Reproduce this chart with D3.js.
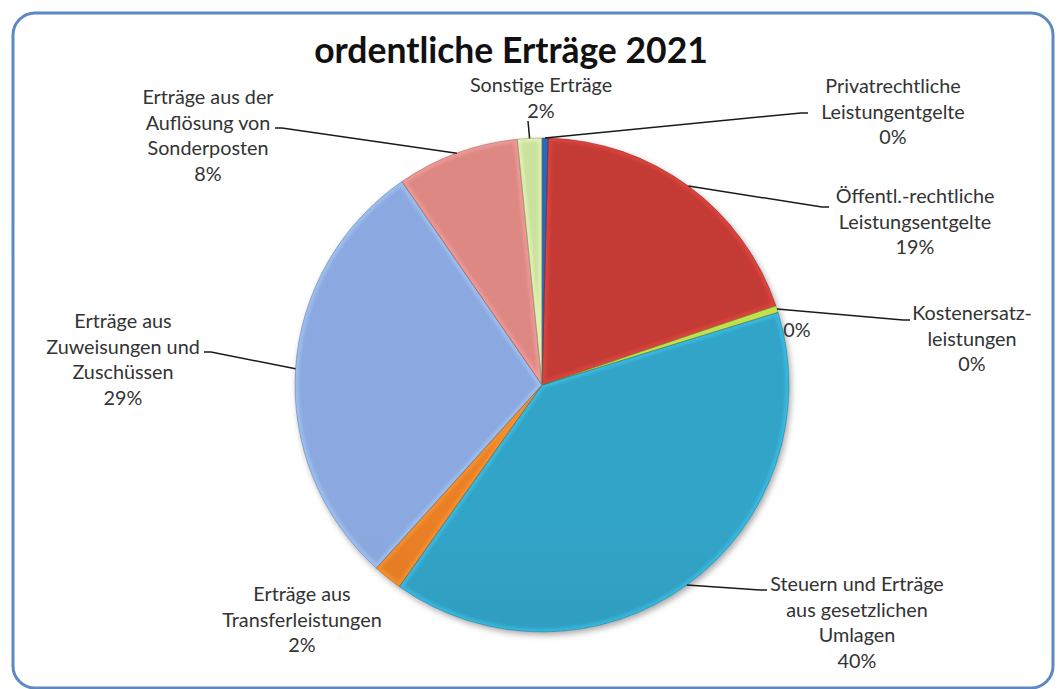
<!DOCTYPE html>
<html>
<head>
<meta charset="utf-8">
<script src="https://cdn.jsdelivr.net/npm/d3@7"></script>
<style>
  body { margin: 0; background: #fff; }
  svg { display: block; }
</style>
</head>
<body>
<svg id="chart"></svg>
<script>
// data
const categories = [
    "Privatrechtliche Leistungentgelte",
    "Öffentl.-rechtliche Leistungsentgelte",
    "Kostenersatzleistungen",
    "Steuern und Erträge aus gesetzlichen Umlagen",
    "Erträge aus Transferleistungen",
    "Erträge aus Zuweisungen und Zuschüssen",
    "Erträge aus der Auflösung von Sonderposten",
    "Sonstige Erträge"
];
const values = [0.4, 19.4, 0.45, 39.55, 1.9, 28.7, 8.0, 1.6];
const labelLines = [
    ["Privatrechtliche", "Leistungentgelte"],
    ["Öffentl.-rechtliche", "Leistungsentgelte"],
    ["Kostenersatz-", "leistungen"],
    ["Steuern und Erträge", "aus gesetzlichen", "Umlagen"],
    ["Erträge aus", "Transferleistungen"],
    ["Erträge aus", "Zuweisungen und", "Zuschüssen"],
    ["Erträge aus der", "Auflösung von", "Sonderposten"],
    ["Sonstige Erträge"]
];
const colors = ["#245a9e", "#bd3833", "#a3c243", "#2f9ec0", "#e27b27", "#86a3d8", "#d6837f", "#c2da98"];
const title = "ordentliche Erträge 2021";

// label placement (text block centre, first baseline, leader end)
const labelLayout = [
    { x: 893, y: 93, end: [808, 113], side: 1 },
    { x: 915, y: 203, end: [829, 207], side: 1 },
    { x: 972, y: 320, end: [910, 320], side: 1 },
    { x: 857, y: 591, end: [767, 590], side: 1 },
    { x: 302, y: 601, end: null },
    { x: 123, y: 328, end: [204, 352], side: -1 },
    { x: 208, y: 104, end: [275, 128], side: -1 },
    { x: 541, y: 92, end: [528, 121], side: 0 }
];

const width = 1059, height = 689;
const cx = 542, cy = 385, radius = 247;
const lineH = 25.5;
const labelFont = "Lato, 'Open Sans', sans-serif";

const svg = d3.select("#chart")
    .attr("width", width)
    .attr("height", height);

const defs = svg.append("defs");

const shadow = defs.append("filter")
    .attr("id", "pieShadow")
    .attr("x", "-20%").attr("y", "-20%")
    .attr("width", "140%").attr("height", "140%");
shadow.append("feDropShadow")
    .attr("dx", 2).attr("dy", 3)
    .attr("stdDeviation", 3)
    .attr("flood-color", "#000")
    .attr("flood-opacity", 0.35);

const blur = defs.append("filter").attr("id", "soft");
blur.append("feGaussianBlur").attr("stdDeviation", 1.6);

// frame
svg.append("rect")
    .attr("x", 13).attr("y", 13)
    .attr("width", 1040).attr("height", 675)
    .attr("rx", 22).attr("ry", 22)
    .style("fill", "#fff")
    .style("stroke", "#5d88c2")
    .style("stroke-width", 3);

svg.append("text")
    .attr("x", 511).attr("y", 63)
    .attr("text-anchor", "middle")
    .style("font-family", labelFont)
    .style("font-weight", "bold")
    .style("font-size", "35.5px")
    .style("fill", "#111")
    .text(title);

const total = d3.sum(values);
const pie = d3.pie().sort(null).value(d => d);
const arcs = pie(values);
const arc = d3.arc().innerRadius(0).outerRadius(radius);

// vertical gradients, darker towards the bottom of the pie
colors.forEach((c, i) => {
    const g = defs.append("linearGradient")
        .attr("id", "grad" + i)
        .attr("gradientUnits", "userSpaceOnUse")
        .attr("x1", 0).attr("y1", cy - radius)
        .attr("x2", 0).attr("y2", cy + radius);
    g.append("stop").attr("offset", "0%").attr("stop-color", d3.color(c).brighter(0.1));
    g.append("stop").attr("offset", "100%").attr("stop-color", d3.color(c).darker(0.45));
    defs.append("clipPath").attr("id", "clip" + i)
        .append("path").attr("d", arc(arcs[i]));
});

const pieG = svg.append("g").attr("transform", `translate(${cx},${cy})`);

pieG.append("g")
    .attr("filter", "url(#pieShadow)")
    .selectAll("path")
    .data(arcs)
    .enter()
    .append("path")
    .attr("d", arc)
    .style("fill", (d, i) => `url(#grad${i})`);

// soft bevel highlight along each slice edge
pieG.selectAll(".bevel")
    .data(arcs)
    .enter()
    .append("path")
    .attr("class", "bevel")
    .attr("d", arc)
    .attr("clip-path", (d, i) => `url(#clip${i})`)
    .attr("filter", "url(#soft)")
    .style("fill", "none")
    .style("stroke", (d, i) => d3.color(colors[i]).brighter(0.8))
    .style("stroke-opacity", 0.45)
    .style("stroke-width", 7);

pieG.selectAll(".edge")
    .data(arcs)
    .enter()
    .append("path")
    .attr("class", "edge")
    .attr("d", arc)
    .style("fill", "none")
    .style("stroke", (d, i) => d3.color(colors[i]).darker(1))
    .style("stroke-opacity", 0.6)
    .style("stroke-width", 0.8);

// leader lines from the middle of each slice edge
const leaders = arcs.map((d, i) => ({ d, l: labelLayout[i] })).filter(o => o.l.end);

svg.selectAll(".leader")
    .data(leaders)
    .enter()
    .append("polyline")
    .attr("class", "leader")
    .attr("points", o => {
        const a = (o.d.startAngle + o.d.endAngle) / 2;
        const sx = cx + radius * Math.sin(a), sy = cy - radius * Math.cos(a);
        const [ex, ey] = o.l.end;
        const kx = ex - o.l.side * 7;
        return [[sx, sy], [kx, ey], [ex, ey]].map(p => p.join(",")).join(" ");
    })
    .style("fill", "none")
    .style("stroke", "#1a1a1a")
    .style("stroke-width", 1.5);

// labels
const labels = svg.selectAll(".label")
    .data(arcs)
    .enter()
    .append("text")
    .attr("class", "label")
    .attr("text-anchor", "middle")
    .style("font-family", labelFont)
    .style("font-size", "19.8px")
    .style("fill", "#333");

labels.each(function (d, i) {
    const lines = labelLines[i].concat([Math.round(d.value / total * 100) + "%"]);
    const t = d3.select(this);
    lines.forEach((s, k) => {
        t.append("tspan")
            .attr("x", labelLayout[i].x)
            .attr("y", labelLayout[i].y + k * lineH)
            .text(s);
    });
});

// stray percentage next to the Kostenersatz slice
svg.append("text")
    .attr("x", 797).attr("y", 337)
    .attr("text-anchor", "middle")
    .style("font-family", labelFont)
    .style("font-size", "19.8px")
    .style("fill", "#333")
    .text(Math.round(values[2] / total * 100) + "%");
</script>
</body>
</html>
